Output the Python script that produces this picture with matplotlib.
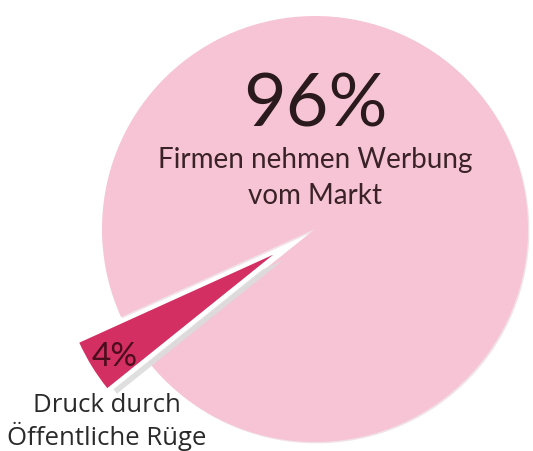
import matplotlib
matplotlib.use("Agg")
import matplotlib.pyplot as plt
import matplotlib.patheffects as pe

# Data
categories = ["Firmen nehmen Werbung\nvom Markt", "Druck durch\nÖffentliche Rüge"]
values = [96, 4]
pct_labels = ["96%", "4%"]
colors = ["#F6C4D4", "#D42F62"]
explode_frac = [0, 0.23]

W, H = 533, 451
fig = plt.figure(figsize=(W / 100, H / 100), dpi=100)
fig.patch.set_facecolor("white")
ax = fig.add_axes([0, 0, 1, 1])

cx, cy, r = 315, H - 229, 213
wedges, _ = ax.pie(values, colors=colors, startangle=218.8, counterclock=True,
                   explode=[e * r for e in explode_frac], center=(cx, cy), radius=r,
                   wedgeprops=dict(linewidth=0), frame=True)
ax.set_xlim(0, W)
ax.set_ylim(0, H)
ax.set_aspect("equal")
ax.axis("off")

wedges[0].set_zorder(1)
wedges[1].set_zorder(2)
wedges[0].set_path_effects([pe.SimplePatchShadow(offset=(1, -1), shadow_rgbFace="#e8d0d8", alpha=0.6), pe.Normal()])
wedges[1].set_path_effects([
    pe.SimplePatchShadow(offset=(7, -4), shadow_rgbFace="#dcdcdc", alpha=0.9),
    pe.SimplePatchShadow(offset=(3, -2), shadow_rgbFace="#ffffff", alpha=1.0),
    pe.Normal()])

# Text
ax.text(315, H - 106, pct_labels[0], ha="center", va="center", fontsize=53,
        family="Lato", color="#2a1a1e", zorder=5)
ax.text(315, H - 178, categories[0], ha="center", va="center", fontsize=20,
        family="Lato", color="#3a2228", linespacing=1.45, zorder=5)
ax.text(115, H - 357, pct_labels[1], ha="center", va="center", fontsize=24,
        family="Lato", color="#4a0d1c", zorder=5)
ax.text(107, H - 422, categories[1], ha="center", va="center", fontsize=18.5,
        family="Open Sans", color="#2a2a2a", linespacing=1.15, zorder=5)

fig.savefig("out.png", dpi=100, facecolor="white")
